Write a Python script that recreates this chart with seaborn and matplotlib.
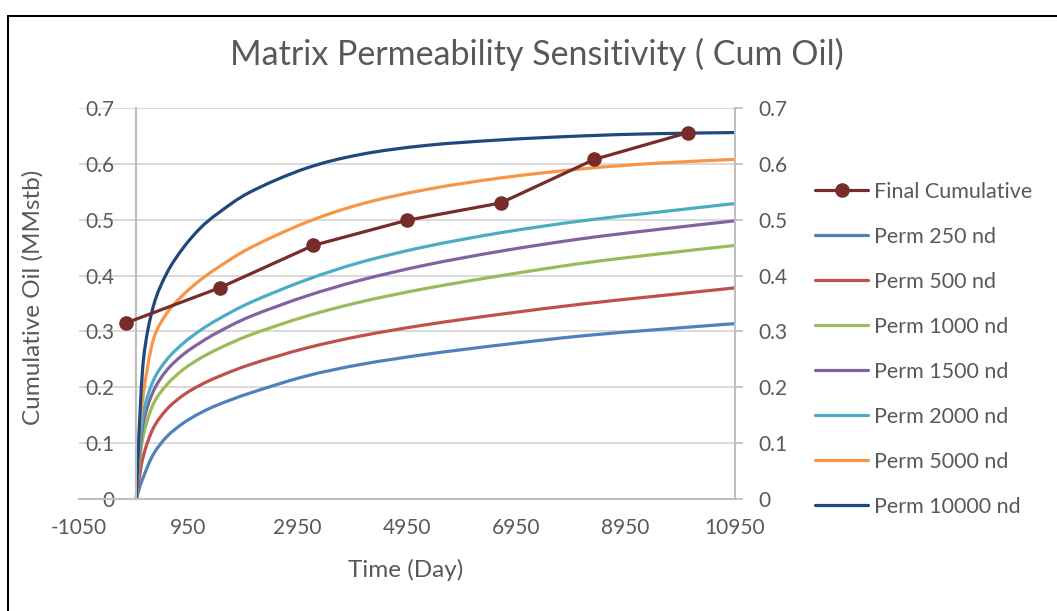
import numpy as np
import pandas as pd
import matplotlib
matplotlib.use("Agg")
import matplotlib.pyplot as plt
from matplotlib.lines import Line2D
from matplotlib.path import Path
from matplotlib.patches import PathPatch
import seaborn as sns

# ---------------- data ----------------
time_days = [0, 40, 130, 310, 560, 860, 1170, 1500, 2090, 3100, 4110, 5300, 6680, 8150, 9490, 10950]
perm_250 = [0, 0.015, 0.040, 0.080, 0.112, 0.136, 0.154, 0.169, 0.190, 0.220, 0.241, 0.259, 0.276, 0.292, 0.303, 0.314]
perm_500 = [0, 0.030, 0.078, 0.127, 0.161, 0.186, 0.204, 0.219, 0.241, 0.270, 0.292, 0.312, 0.331, 0.349, 0.363, 0.378]
perm_1000 = [0, 0.052, 0.115, 0.170, 0.205, 0.232, 0.252, 0.269, 0.294, 0.327, 0.353, 0.377, 0.400, 0.422, 0.438, 0.454]
perm_1500 = [0, 0.065, 0.138, 0.193, 0.231, 0.259, 0.280, 0.299, 0.327, 0.363, 0.392, 0.419, 0.444, 0.466, 0.482, 0.498]
perm_2000 = [0, 0.075, 0.155, 0.212, 0.250, 0.279, 0.302, 0.322, 0.352, 0.392, 0.424, 0.452, 0.477, 0.498, 0.513, 0.529]
perm_5000 = [0, 0.100, 0.190, 0.285, 0.333, 0.366, 0.392, 0.415, 0.450, 0.495, 0.528, 0.554, 0.575, 0.591, 0.601, 0.608]
perm_10000 = [0, 0.100, 0.250, 0.345, 0.405, 0.450, 0.485, 0.512, 0.550, 0.592, 0.617, 0.633, 0.643, 0.650, 0.654, 0.656]

series_names = ["Perm 250 nd", "Perm 500 nd", "Perm 1000 nd", "Perm 1500 nd",
                "Perm 2000 nd", "Perm 5000 nd", "Perm 10000 nd"]
final_cumulative = [0.315, 0.378, 0.454, 0.499, 0.530, 0.608, 0.656]

x_ticks = [-1050, 950, 2950, 4950, 6950, 8950, 10950]
x_tick_labels = ["-1050", "950", "2950", "4950", "6950", "8950", "10950"]
y_ticks = [0, 0.1, 0.2, 0.3, 0.4, 0.5, 0.6, 0.7]
y_tick_labels = ["0", "0.1", "0.2", "0.3", "0.4", "0.5", "0.6", "0.7"]

title = "Matrix Permeability Sensitivity ( Cum Oil)"
x_title = "Time (Day)"
y_title = "Cumulative Oil (MMstb)"

# ---------------- styling ----------------
colors = ["#4F81BD", "#C0504D", "#9BBB59", "#8064A2", "#4BACC6", "#F79646", "#1F497D"]
final_color = "#772C2A"
text_color = "#595959"
grid_color = "#D9D9D9"
axis_color = "#BFBFBF"
LW = 2.3

sns.set_theme(style="white")
plt.rcParams["font.family"] = ["Lato", "DejaVu Sans"]

W, H = 1057, 611
fig = plt.figure(figsize=(W / 100, H / 100), dpi=100)
fig.patch.set_facecolor("white")

def px_rect(l, t, r, b):
    return [l / W, 1 - b / H, (r - l) / W, (b - t) / H]

rect = px_rect(79, 108, 735, 499)
ax = fig.add_axes(rect)

all_y = [perm_250, perm_500, perm_1000, perm_1500, perm_2000, perm_5000, perm_10000]
rows = []
for name, ys in zip(series_names, all_y):
    for xv, yv in zip(time_days, ys):
        rows.append({"Time": xv, "Cum": yv, "Series": name})
df = pd.DataFrame(rows)

sns.lineplot(data=df, x="Time", y="Cum", hue="Series", hue_order=series_names,
             palette=colors, estimator=None, sort=False, linewidth=LW,
             legend=False, ax=ax)


def smooth_path(xs, ys):
    """Excel-style smoothed line: cubic Bezier through the data points."""
    xs = np.asarray(xs, float)
    ys = np.asarray(ys, float)
    n = len(xs)
    verts = [(xs[0], ys[0])]
    codes = [Path.MOVETO]
    for i in range(n - 1):
        i0 = i - 1 if i > 0 else i
        i3 = i + 2 if i + 2 < n else i + 1
        c1 = (xs[i] + (xs[i + 1] - xs[i0]) / 6, ys[i] + (ys[i + 1] - ys[i0]) / 6)
        c2 = (xs[i + 1] - (xs[i3] - xs[i]) / 6, ys[i + 1] - (ys[i3] - ys[i]) / 6)
        verts += [c1, c2, (xs[i + 1], ys[i + 1])]
        codes += [Path.CURVE4] * 3
    return Path(verts, codes)


# render seaborn's lines as smoothed curves (same data, same scales)
for line in list(ax.get_lines()):
    xd, yd = line.get_xdata(), line.get_ydata()
    patch = PathPatch(smooth_path(xd, yd), facecolor="none", edgecolor=line.get_color(),
                      linewidth=LW, capstyle="round", joinstyle="round", zorder=line.get_zorder())
    ax.add_patch(patch)
    line.set_visible(False)

ax.set_xlim(-1050, 10950)
ax.set_ylim(0, 0.7)
ax.set_xticks(x_ticks)
ax.set_xticklabels(x_tick_labels)
ax.set_yticks(y_ticks)
ax.set_yticklabels(y_tick_labels)
ax.set_xlabel("")
ax.set_ylabel("")
ax.set_axisbelow(True)
ax.yaxis.grid(True, color=grid_color, linewidth=1.4)
ax.xaxis.grid(False)
for s in ["top", "right"]:
    ax.spines[s].set_visible(False)
ax.spines["left"].set_position(("data", 0))
ax.spines["left"].set_color(axis_color)
ax.spines["left"].set_linewidth(1.5)
ax.spines["bottom"].set_color(axis_color)
ax.spines["bottom"].set_linewidth(1.5)
ax.tick_params(axis="y", length=0, pad=16, labelsize=15, labelcolor=text_color)
ax.tick_params(axis="x", length=0, pad=14, labelsize=15, labelcolor=text_color)
ax.patch.set_visible(False)

# secondary axes for the Final Cumulative category line
ax2 = fig.add_axes(rect, label="secondary")
ax2.patch.set_visible(False)
cats = list(range(len(final_cumulative)))
sns.lineplot(x=cats, y=final_cumulative, ax=ax2, color=final_color, linewidth=LW,
             marker="o", markersize=10.5, markeredgewidth=0, legend=False)
ax2.set_xlim(-0.5, len(final_cumulative) - 0.5)
ax2.set_ylim(0, 0.7)
ax2.xaxis.set_visible(False)
ax2.yaxis.tick_right()
ax2.set_yticks(y_ticks)
ax2.set_yticklabels(y_tick_labels)
ax2.set_ylabel("")
for s in ["top", "left", "bottom"]:
    ax2.spines[s].set_visible(False)
ax2.spines["right"].set_color(axis_color)
ax2.spines["right"].set_linewidth(1.5)
ax2.tick_params(axis="y", length=6, width=1.3, color=axis_color, pad=11,
                labelsize=15, labelcolor=text_color)

# titles
fig.text(537 / W, 1 - 54 / H, title, ha="center", va="center", fontsize=24.5, color=text_color)
fig.text(406 / W, 1 - 570 / H, x_title, ha="center", va="center", fontsize=17.5, color=text_color)
fig.text(33 / W, 1 - 297 / H, y_title, ha="center", va="center", rotation=90,
         fontsize=17.5, color=text_color)

# legend
handles = [Line2D([], [], color=final_color, lw=LW, marker="o", markersize=10.5, markeredgewidth=0)]
handles += [Line2D([], [], color=c, lw=LW) for c in colors]
labels = ["Final Cumulative"] + series_names
leg = fig.legend(handles, labels, loc="upper left", bbox_to_anchor=(815 / W, 1 - 182 / H),
                 frameon=False, fontsize=15.5, handlelength=2.47, handletextpad=0.28,
                 labelspacing=1.16, borderpad=0, borderaxespad=0)
for t in leg.get_texts():
    t.set_color(text_color)

# outer chart border (left and top edges)
fig.add_artist(Line2D([8 / W, 8 / W], [0, 1 - 16 / H], transform=fig.transFigure, color="black", lw=1.5))
fig.add_artist(Line2D([8 / W, 1], [1 - 16 / H, 1 - 16 / H], transform=fig.transFigure, color="black", lw=1.5))

fig.savefig("out.png", dpi=100, facecolor="white")
